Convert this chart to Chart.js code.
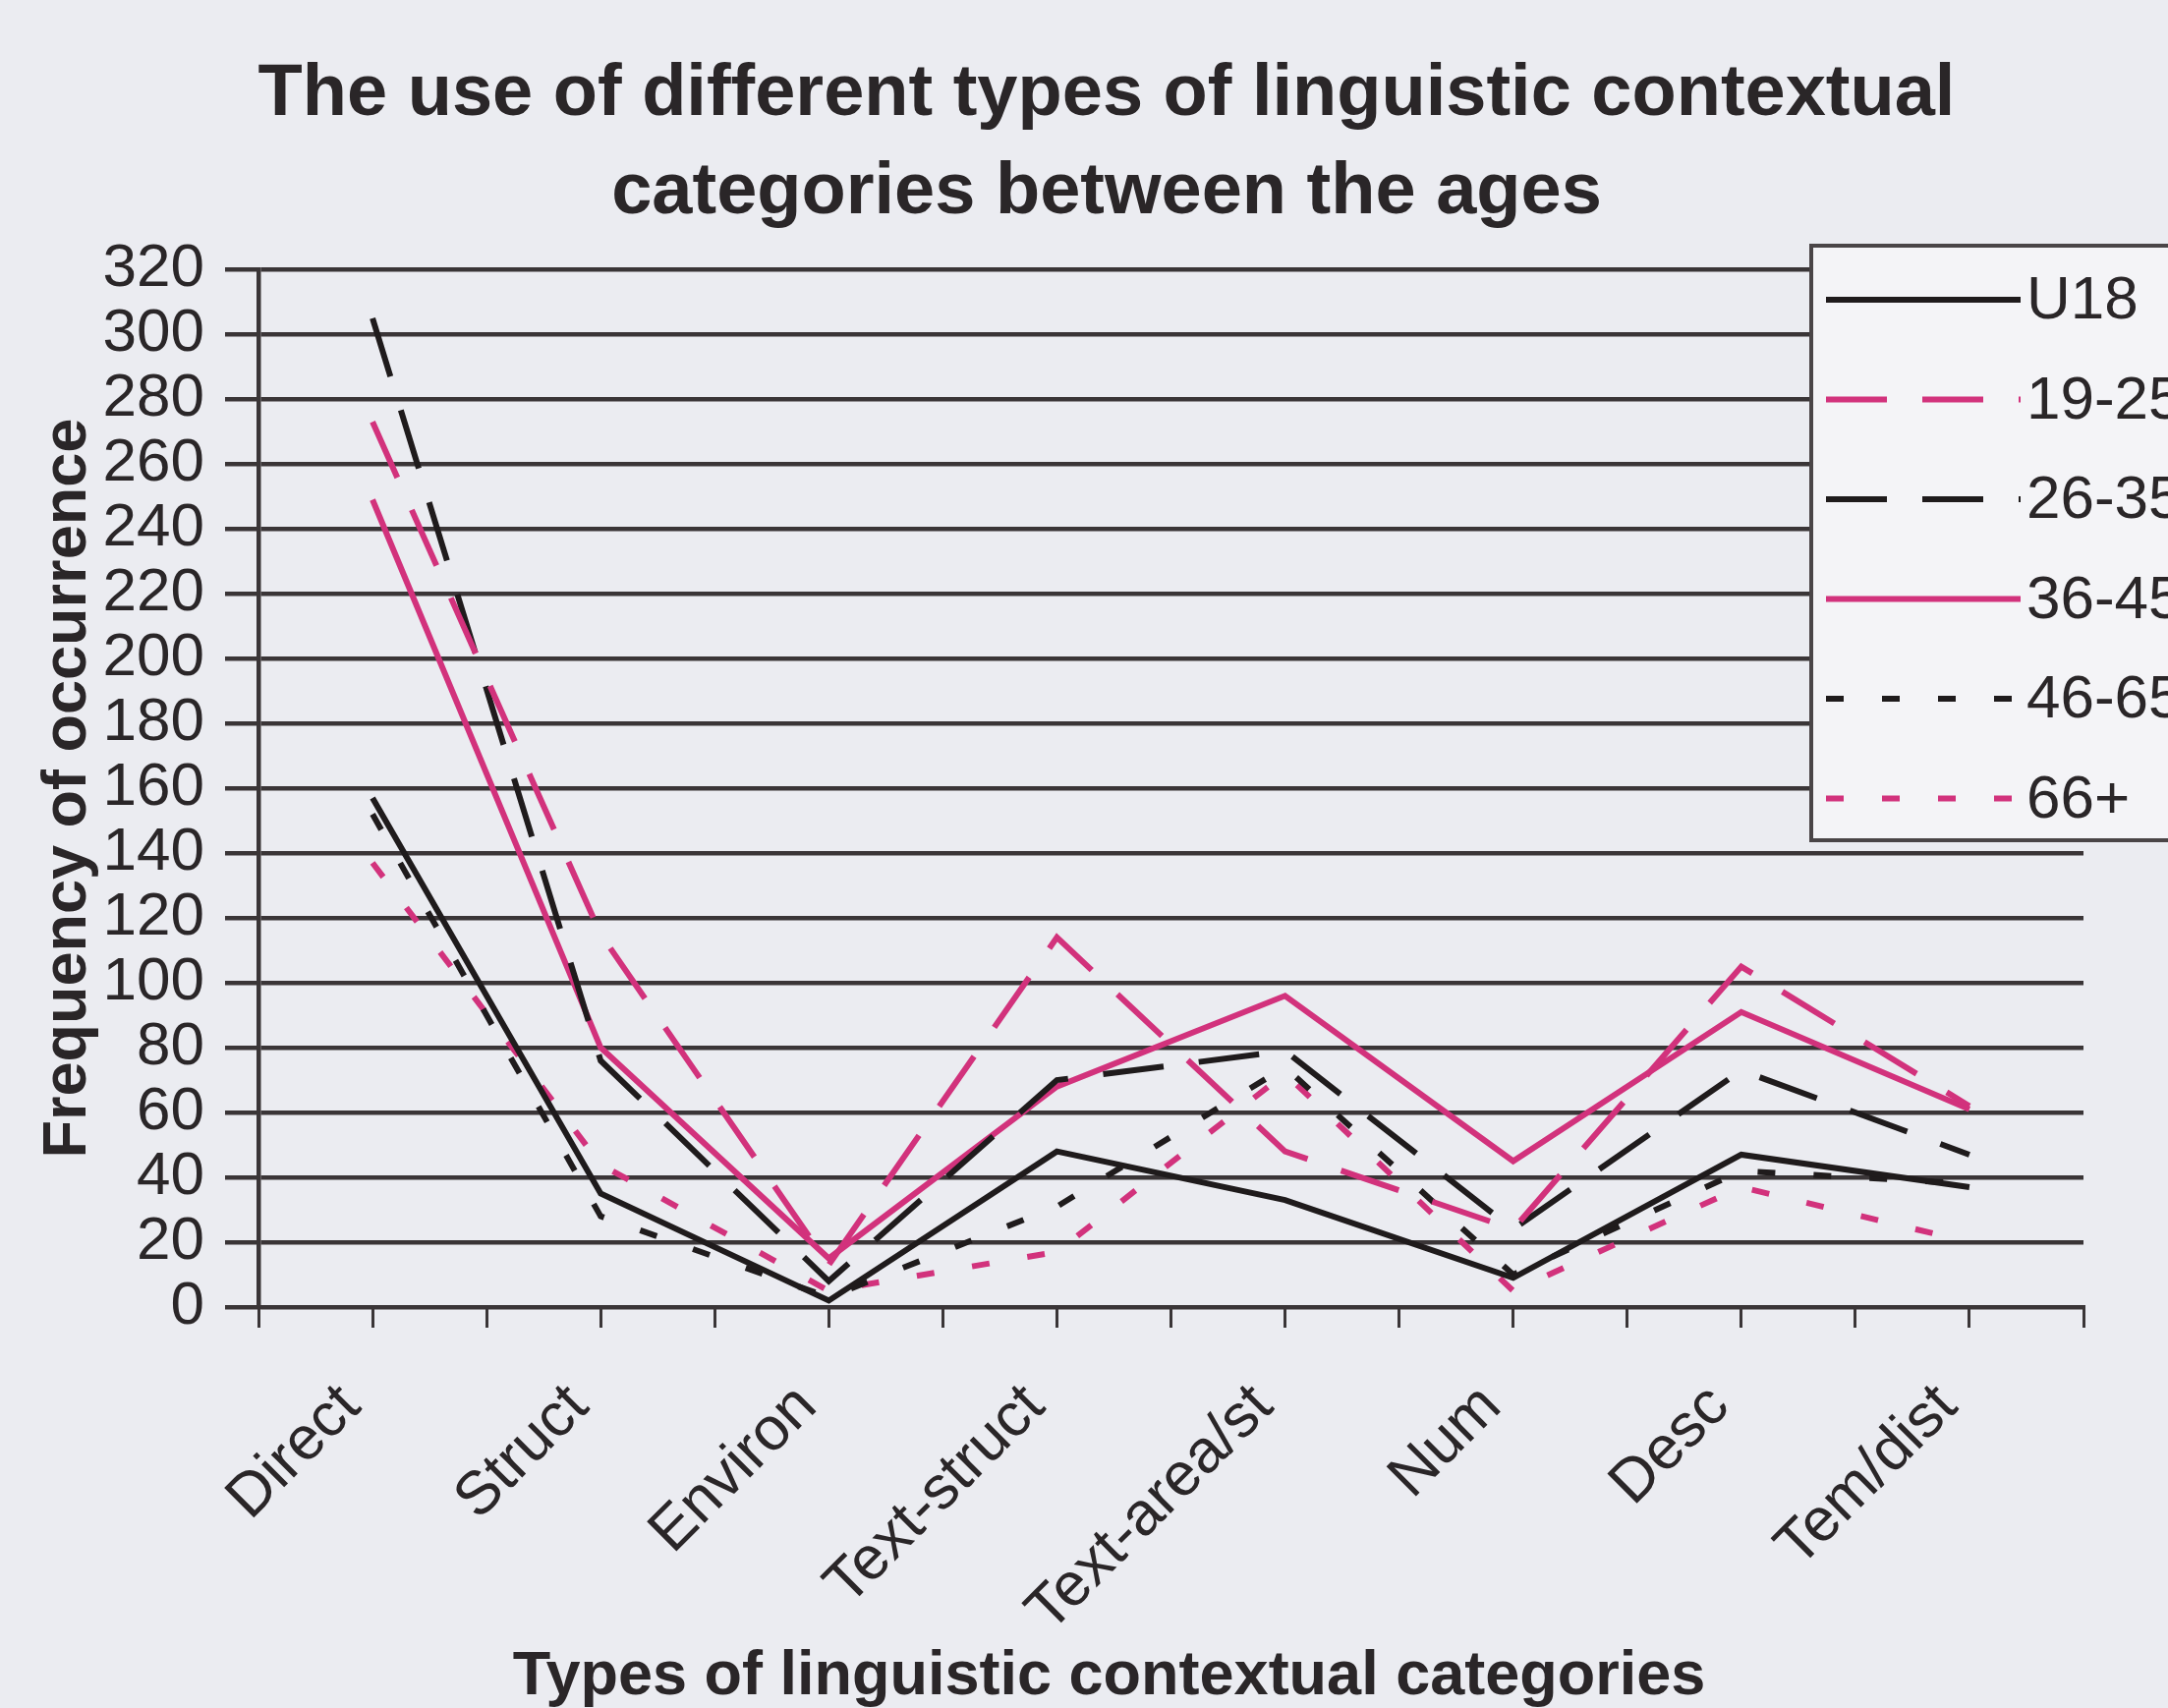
<!DOCTYPE html>
<html>
<head>
<meta charset="utf-8">
<title>Linguistic contextual categories between the ages</title>
<script src="https://cdn.jsdelivr.net/npm/chart.js@4.4.1/dist/chart.umd.min.js"></script>
<style>
  html, body { margin: 0; padding: 0; background: #ebecf1; }
</style>
</head>
<body>
<canvas id="myChart" width="2206" height="1738"></canvas>
<script>
// categories on the x axis
const categories = ['Direct', 'Struct', 'Environ', 'Text-struct', 'Text-area/st', 'Num', 'Desc', 'Tem/dist'];

// one array per age group
const u18     = [157,  35,  2,  48, 33,  9,  47, 37];
const age1925 = [273, 115, 13, 114, 48, 24, 105, 62];
const age2635 = [305,  76,  8,  70, 79, 24,  73, 47];
const age3645 = [249,  80, 15,  68, 96, 45,  91, 61];
const age4665 = [152,  28,  3,  31, 74, 10,  42, 38];
const age66   = [137,  44,  5,  17, 72,  5,  37, 20];

// y axis
const yMax = 320;
const yStep = 20;

const pink = '#d2327c';
const dark = '#1f1b1c';
const gridCol = '#3a3537';

Chart.defaults.font.family = '"Liberation Sans", Arial, sans-serif';
Chart.defaults.color = '#2a2628';

function toPoints(vals) {
    return vals.map((v, i) => ({ x: i, y: v }));
}

function series(label, vals, color, dash) {
    return {
        label: label,
        data: toPoints(vals),
        borderColor: color,
        backgroundColor: color,
        borderWidth: 6,
        borderDash: dash,
        borderCapStyle: 'butt',
        pointRadius: 0,
        tension: 0,
        fill: false
    };
}

const longDash = [62, 36];
const dots = [18, 39];

var chartData = {
    datasets: [
        series('U18', u18, dark, []),
        series('19-25', age1925, pink, longDash),
        series('26-35', age2635, dark, longDash),
        series('36-45', age3645, pink, []),
        series('46-65', age4665, dark, dots),
        series('66+', age66, pink, dots)
    ]
};

// page background
const paperBg = {
    id: 'paperBg',
    beforeDraw(chart) {
        const ctx = chart.ctx;
        ctx.save();
        ctx.fillStyle = '#ebecf1';
        ctx.fillRect(0, 0, chart.width, chart.height);
        ctx.restore();
    }
};

// boxed legend sitting over the top right of the plot
const boxLegend = {
    id: 'boxLegend',
    afterDraw(chart) {
        const ctx = chart.ctx;
        const left = 1843, top = 250, bottom = 855;
        ctx.save();
        ctx.fillStyle = '#f4f4f7';
        ctx.fillRect(left, top, chart.width - left + 20, bottom - top);
        ctx.strokeStyle = '#4a4547';
        ctx.lineWidth = 4;
        ctx.strokeRect(left, top, chart.width - left + 20, bottom - top);

        ctx.font = '62px "Liberation Sans", Arial, sans-serif';
        ctx.textBaseline = 'middle';
        ctx.textAlign = 'left';
        chart.data.datasets.forEach(function(ds, i) {
            const y = 305 + i * 101.5;
            ctx.beginPath();
            ctx.setLineDash(ds.borderDash || []);
            ctx.lineCap = 'butt';
            ctx.strokeStyle = ds.borderColor;
            ctx.lineWidth = ds.borderWidth;
            ctx.moveTo(1858, y);
            ctx.lineTo(2056, y);
            ctx.stroke();
            ctx.setLineDash([]);
            ctx.fillStyle = '#2a2628';
            ctx.fillText(ds.label, 2062, y + 2);
        });
        ctx.restore();
    }
};

var ctx = document.getElementById('myChart').getContext('2d');
var lineChart = new Chart(ctx, {
    type: 'line',
    data: chartData,
    plugins: [paperBg, boxLegend],
    options: {
        responsive: false,
        animation: false,
        // left padding + empty right axis keep the title centred like the original
        layout: { padding: { left: 46, right: 0, top: 0, bottom: 0 } },
        plugins: {
            legend: { display: false },
            tooltip: { enabled: false },
            title: {
                display: true,
                text: ['The use of different types of linguistic contextual', 'categories between the ages'],
                font: { size: 74, weight: 'bold', lineHeight: 1.36 },
                color: '#2a2628',
                padding: { top: 46, bottom: 27 }
            }
        },
        scales: {
            x: {
                type: 'linear',
                min: -0.5,
                max: categories.length - 0.5,
                afterFit: function(scale) {
                    scale.height = 408;
                    // rotated labels would otherwise pull the plot in on the right
                    scale.paddingLeft = 0;
                    scale.paddingRight = 0;
                },
                ticks: {
                    stepSize: 0.5,
                    autoSkip: false,
                    minRotation: 45,
                    maxRotation: 45,
                    padding: 44,
                    labelOffset: -22,
                    font: { size: 62 },
                    callback: function(v) {
                        return Number.isInteger(v) ? categories[v] : '';
                    }
                },
                grid: {
                    drawOnChartArea: false,
                    drawTicks: true,
                    tickLength: 21,
                    color: gridCol,
                    lineWidth: 3
                },
                border: { display: true, color: gridCol, width: 4 },
                title: {
                    display: true,
                    text: 'Types of linguistic contextual categories\u2002\u2002\u2002\u2002',
                    font: { size: 63, weight: 'bold', lineHeight: 1.0 },
                    padding: 0
                }
            },
            y: {
                min: 0,
                max: yMax,
                afterFit: function(scale) { scale.width = 217; },
                ticks: {
                    stepSize: yStep,
                    autoSkip: false,
                    padding: 21,
                    font: { size: 62, lineHeight: 0.9 }
                },
                grid: {
                    color: gridCol,
                    lineWidth: 4.5,
                    drawTicks: true,
                    tickLength: 34
                },
                border: { display: true, color: gridCol, width: 4.5 },
                title: {
                    display: true,
                    text: 'Frequency of occurrence',
                    font: { size: 63, weight: 'bold', lineHeight: 1.2 },
                    padding: { top: -14, bottom: 0 }
                }
            },
            // empty axis that only reserves the margin on the right
            yRight: {
                position: 'right',
                min: 0,
                max: yMax,
                afterFit: function(scale) { scale.width = 86; },
                ticks: { display: false },
                grid: { display: false },
                border: { display: false }
            }
        }
    }
});
</script>
</body>
</html>
